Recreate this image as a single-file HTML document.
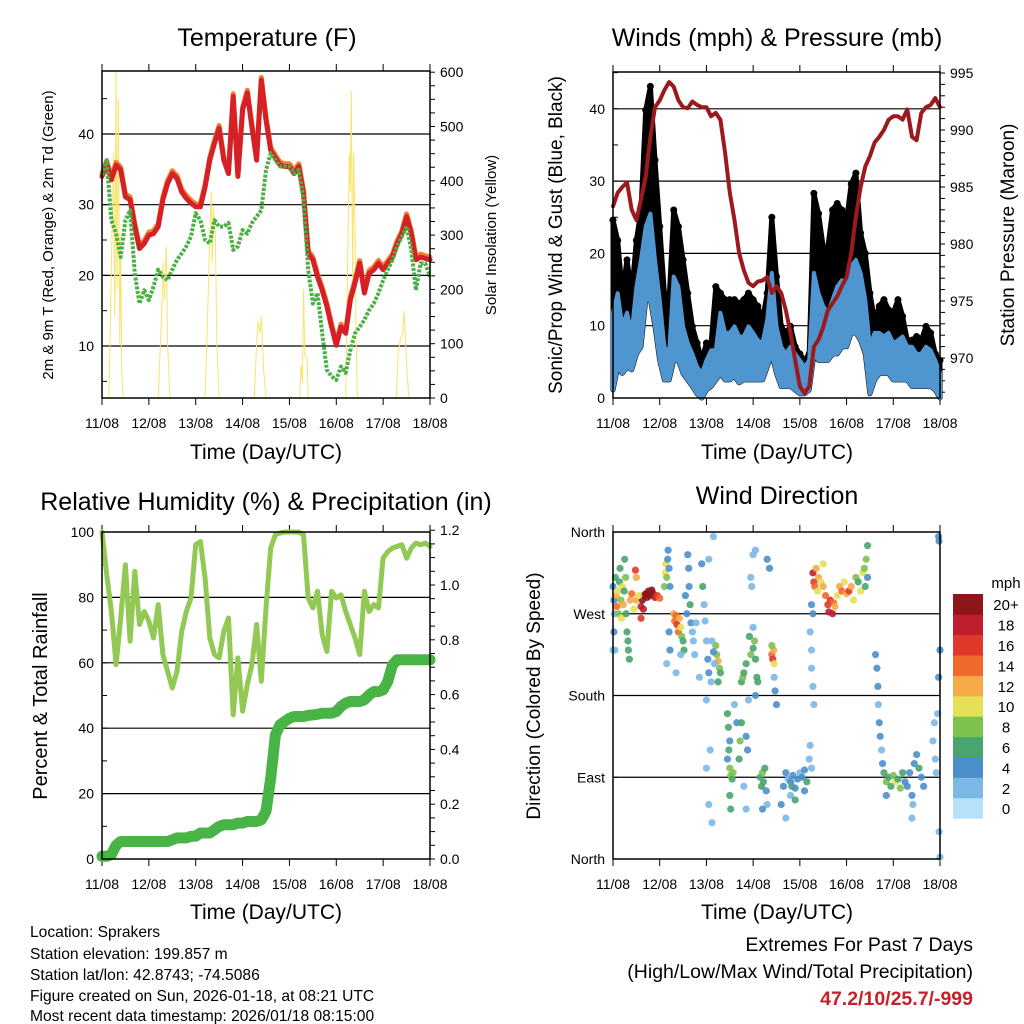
<!DOCTYPE html>
<html><head><meta charset="utf-8"><style>
html,body{margin:0;padding:0;background:#fff;}
svg{display:block;font-family:"Liberation Sans",Arial,sans-serif;}
</style></head><body>
<svg id="fig" width="1024" height="1024" viewBox="0 0 1024 1024" xmlns="http://www.w3.org/2000/svg">
<g id="bg"></g>
<text x="267" y="46" font-size="25" text-anchor="middle">Temperature (F)</text>
<text x="777" y="46" font-size="25" text-anchor="middle">Winds (mph) &amp; Pressure (mb)</text>
<text x="266" y="510" font-size="25" text-anchor="middle">Relative Humidity (%) &amp; Precipitation (in)</text>
<text x="777" y="504" font-size="25" text-anchor="middle">Wind Direction</text>
<text x="266" y="459" font-size="21" text-anchor="middle">Time (Day/UTC)</text>
<text x="777" y="459" font-size="21" text-anchor="middle">Time (Day/UTC)</text>
<text x="266" y="919" font-size="21" text-anchor="middle">Time (Day/UTC)</text>
<text x="777" y="919" font-size="21" text-anchor="middle">Time (Day/UTC)</text>
<text transform="translate(53,235) rotate(-90)" font-size="15" text-anchor="middle">2m &amp; 9m T (Red, Orange) &amp; 2m Td (Green)</text>
<text transform="translate(496,235) rotate(-90)" font-size="15" text-anchor="middle">Solar Insolation (Yellow)</text>
<text transform="translate(562,235) rotate(-90)" font-size="19" text-anchor="middle">Sonic/Prop Wind &amp; Gust (Blue, Black)</text>
<text transform="translate(1014,235) rotate(-90)" font-size="19" text-anchor="middle">Station Pressure (Maroon)</text>
<text transform="translate(47,696) rotate(-90)" font-size="20" text-anchor="middle">Percent &amp; Total Rainfall</text>
<text transform="translate(540,696) rotate(-90)" font-size="19" text-anchor="middle">Direction (Colored By Speed)</text>
<g font-size="15.6">
<text x="30" y="937">Location: Sprakers</text>
<text x="30" y="959">Station elevation: 199.857 m</text>
<text x="30" y="980">Station lat/lon: 42.8743; -74.5086</text>
<text x="30" y="1001">Figure created on Sun, 2026-01-18, at 08:21 UTC</text>
<text x="30" y="1021">Most recent data timestamp: 2026/01/18 08:15:00</text>
</g>
<g font-size="19.5" text-anchor="end">
<text x="973" y="951">Extremes For Past 7 Days</text>
<text x="973" y="978">(High/Low/Max Wind/Total Precipitation)</text>
<text x="973" y="1005" fill="#c8202a" font-weight="bold">47.2/10/25.7/-999</text>
</g>
<g id="p1"></g><g id="p2"></g><g id="p3"></g><g id="p4"></g>
</svg>
<script>
const days=["11/08","12/08","13/08","14/08","15/08","16/08","17/08","18/08"];
const tStep=0.1;
const tempT=[34,35.8,33.5,35.6,34.9,31.1,30.7,26.9,23.8,24.5,25.7,25.9,26.9,30.7,33,34.4,33.7,31.8,30.9,30.2,29.7,29.7,32.5,36.3,38.7,40.8,36.3,34.4,45.3,34,43.4,45.8,41,36.3,47.6,42,37.7,36.6,35.6,35.4,35.4,34.4,35.4,31.6,23.1,22.2,19.8,17.9,15.6,12.7,10.1,12.7,11.8,16.5,18.9,21.7,17.5,20.3,20.8,21.7,20.8,21.7,22.6,24.5,25.9,28.3,25.9,22.2,22.6,22.4,22.2];
const tempTd=[34.2,36.3,27.8,25.9,22.6,27.8,29.2,20.3,16,17.9,16.5,18.4,20.8,19.8,19.3,20.8,22.2,23.1,24.1,25.5,28.8,27.8,25,24.5,27.8,26.9,26.9,27.4,23.6,24.1,26.4,25.9,27.4,28.3,29.2,34.9,37.3,36.3,35.4,35.4,35.4,34.4,34.9,30.7,20.8,16,17.5,11.8,6.6,5.7,5.2,7.1,6.2,9.4,11.8,12.7,13.7,15.1,16,17.5,19.3,20.8,22.2,24.1,25.5,26.9,23.6,17.9,21.7,21.7,19.8];
const solarT=[0,0.15,0.2,0.25,0.27,0.3,0.32,0.35,0.38,0.4,0.42,0.45,1.2,1.27,1.3,1.33,1.37,1.4,1.45,2.2,2.27,2.3,2.33,2.35,2.38,2.42,2.45,2.5,3.25,3.3,3.33,3.37,3.4,3.45,3.5,4.22,4.25,4.28,4.3,4.33,4.38,4.4,5.2,5.25,5.28,5.3,5.32,5.35,5.37,5.4,5.42,5.45,6.28,6.32,6.37,6.42,6.45,6.5,6.55,7.0];
const solarV=[0,0,250,450,150,600,200,550,100,300,50,0,0,150,250,180,280,100,0,0,200,300,380,250,350,300,100,0,0,100,140,120,150,50,0,0,60,30,200,80,70,0,0,300,450,380,565,200,450,320,120,0,0,80,110,120,160,60,0,0];
const pres=[983.3,984.5,985,985.4,983,982.1,983.9,985.9,989.4,992,992.6,993.5,994.2,993.8,992.6,992,991.9,992.5,992.2,992,992,991.2,991.5,990.9,988,984.5,982.1,979.2,977.7,976.6,976.3,976.7,976.8,977.1,975.7,976.3,975.7,974.2,972.2,969.8,967.5,966.9,967.5,971,971.6,972.7,974.2,974.8,975.4,976.3,977.1,979.2,982.4,985,986.8,987.7,988.9,989.4,990,990.9,991.2,991.2,990.9,991.8,989.4,989.1,991.5,992,992.2,992.8,992];
const windLo=[1.1,4.3,3.4,4.3,3.9,6.1,7.1,13.6,13.6,9.9,5.2,2.5,2.5,5.2,5.2,3.4,2.5,1.6,0.6,0,1.1,1.6,2.5,3.4,2.5,2.5,3.0,2.1,2.5,2.5,2.5,2.5,2.5,4.3,6.1,3.4,1.6,1.6,1.6,1.1,0.6,0.6,1.1,6.1,5.2,5.2,5.2,6.1,6.1,7.1,7.1,9.0,9.0,8.0,6.1,0.6,2.5,3.4,3.4,3.4,2.5,2.5,2.5,2.5,1.6,1.6,1.6,1.6,1.6,1.1,0];
const windHi=[11.8,14.5,9.9,11.8,9.0,15.4,19.1,23.7,25.5,19.1,13.6,7.1,6.1,16.8,15.4,9.9,7.6,6.1,4.3,3.4,5.2,6.6,6.6,11.8,9.0,9.0,9.9,8.5,8.5,9.9,9.0,8.0,7.6,10.8,17.3,9.9,7.1,6.1,7.1,6.1,5.2,4.3,5.2,17.3,14.5,12.7,11.8,13.6,15.4,16.3,15.4,18.2,19.1,17.3,13.6,7.1,9.0,9.0,8.5,9.0,7.6,8.0,8.5,7.1,7.1,6.1,6.1,7.1,6.6,5.2,3.4];
const gust=[24.6,21.8,14.5,19.1,14.5,21.8,26.0,39.8,43.1,32.9,23.7,14.5,13.6,26.0,23.7,19.1,14.5,9.9,7.6,5.2,7.6,7.6,15.4,14.5,13.6,13.6,13.6,13.1,13.6,14.5,13.6,12.7,10.8,14.5,25.0,16.8,9.9,9.0,9.9,7.1,6.1,5.2,6.1,28.3,25.5,20.9,20.9,26.0,26.9,26.0,24.6,29.6,31.1,22.8,20.0,14.5,10.8,12.7,13.6,12.2,11.8,13.6,11.3,8.0,8.0,8.5,8.0,9.9,9.0,6.1,5.2];
const rh=[100,87,75.7,59.4,73.7,90,66.6,88,71.7,75.7,72.7,67.6,77.8,62.5,57.4,52.3,57.4,69.6,75.7,79.8,96.1,97.1,85.9,67.6,62.5,61.5,69.6,73.7,44.1,61.5,45.2,53.3,59.4,71.7,54.3,76.8,95.1,99.2,99.7,100,100,100,100,99.2,79.8,76.8,81.9,68.6,63.5,81.9,79.8,80.8,75.7,71.7,67.6,62.5,81.9,75.7,77.8,76.8,92,94,95.1,95.6,96.1,92,95.1,96.6,96.1,96.6,95.6];
const precip=[0.01,0.01,0.016,0.05,0.064,0.064,0.064,0.064,0.064,0.064,0.064,0.064,0.064,0.064,0.064,0.07,0.077,0.077,0.077,0.083,0.083,0.095,0.095,0.095,0.107,0.119,0.125,0.125,0.125,0.131,0.131,0.137,0.137,0.137,0.143,0.174,0.295,0.453,0.49,0.502,0.514,0.52,0.52,0.52,0.524,0.526,0.528,0.532,0.532,0.532,0.538,0.557,0.569,0.575,0.575,0.575,0.581,0.599,0.611,0.611,0.617,0.648,0.708,0.727,0.727,0.727,0.727,0.727,0.727,0.727,0.727];
const dirT=[0.0,0.02,0.03,0.05,0.07,0.08,0.1,0.12,0.14,0.15,0.17,0.18,0.2,0.22,0.24,0.25,0.27,0.28,0.3,0.32,0.33,0.35,0.37,0.4,0.45,0.5,0.0,0.02,0.04,0.48,0.5,
0.6,0.63,0.66,0.7,0.73,0.76,0.8,0.83,0.86,0.9,0.95,1.0,0.6,0.65,0.55,
1.1,1.12,1.13,1.15,1.17,1.18,1.2,1.22,1.2,1.22,1.15,
1.3,1.32,1.35,1.37,1.4,1.42,1.45,1.47,1.5,1.52,1.45,1.35,
1.6,1.62,1.63,1.65,1.67,1.7,1.72,1.75,1.55,1.58,1.78,
1.9,1.92,1.95,1.97,2.0,2.03,1.85,2.05,2.1,2.0,
2.2,2.22,2.25,2.28,2.3,2.25,2.12,2.15,2.17,
2.05,2.15,2.0,2.05,2.12,2.08,
2.45,2.47,2.5,2.48,2.5,2.52,2.55,2.57,2.5,2.52,2.45,
2.6,2.65,2.7,2.72,2.75,2.75,2.78,2.8,2.85,2.85,2.88,2.9,2.92,2.8,2.85,
2.95,3.0,3.03,3.05,3.08,3.1,3.05,3.0,
3.4,3.42,3.44,3.45,3.4,
3.15,3.18,3.2,3.22,3.25,3.28,3.3,3.2,
3.45,3.47,3.5,3.0,3.05,2.95,2.97,3.3,3.35,
3.7,3.75,3.8,3.83,3.85,3.9,3.95,4.0,4.05,4.1,4.15,4.2,4.22,4.25,3.8,3.9,4.1,3.65,3.6,3.7,
4.22,4.25,4.25,4.28,4.3,4.25,4.28,
4.28,4.3,4.32,4.35,4.38,4.4,4.45,4.5,4.55,4.6,4.62,4.65,4.7,4.72,4.75,4.8,4.85,4.9,4.95,5.0,5.05,5.1,5.15,5.2,5.25,5.3,5.35,5.38,5.4,5.42,5.45,5.45,4.5,
5.62,5.65,5.67,5.68,5.7,5.72,5.75,5.77,
5.8,5.85,5.9,5.95,6.0,6.05,6.1,6.15,6.2,6.25,5.85,
6.3,6.35,6.4,6.42,6.45,6.5,6.55,6.6,6.65,6.4,
6.85,6.88,6.9,6.92,6.95,6.97,7.0,6.98,7.0,6.97,6.98];
const dirD=[300,285,270,310,290,278,295,270,305,320,285,265,300,280,295,330,310,270,250,240,230,220,285,292,275,285,230,250,230,318,310,
278,285,290,292,288,295,290,296,292,288,290,287,265,275,290,
300,315,325,310,330,340,320,300,250,230,215,
270,262,268,258,250,265,255,245,240,230,225,205,
335,320,300,280,260,250,240,225,290,270,260,
325,300,280,262,240,220,200,205,195,175,
235,225,218,210,205,195,240,228,215,
330,355,100,60,40,120,
160,145,130,120,100,92,88,95,70,55,110,
170,150,110,130,150,195,200,205,215,135,120,175,245,80,55,
225,232,240,220,200,195,180,255,
225,220,230,215,235,
90,80,95,85,100,75,60,55,
200,185,170,335,340,310,300,330,320,
95,88,85,80,92,78,88,95,90,98,85,110,125,100,70,65,75,80,60,45,
250,230,210,190,170,280,270,
315,305,300,320,295,310,305,300,290,280,272,285,270,282,278,290,300,295,305,292,295,300,285,310,305,295,315,320,300,330,345,310,325,
225,210,190,170,150,135,120,105,
95,85,90,80,92,85,88,78,95,85,70,
80,95,70,60,105,115,100,90,80,45,
130,150,110,95,160,200,230,30,2,355,350];
const dirS=[4,5,3,6,12,14,10,8,7,6,9,10,11,12,6,7,8,6,7,6,7,6,12,14,10,12,3,4,2,16,12,
18,20,20,20,20,20,20,20,20,18,16,14,16,18,10,
8,10,10,9,4,4,4,4,4,4,2,
12,14,15,16,14,12,10,8,6,7,3,3,
4,4,5,6,4,3,2,2,4,4,2,
4,6,2,2,3,4,2,4,2,2,
8,8,12,8,6,6,3,4,3,
2,2,2,2,2,2,
6,6,4,6,8,8,7,8,6,6,4,
3,4,7,8,7,6,8,7,6,4,4,3,6,2,3,
8,7,8,6,7,6,4,3,
14,16,13,10,8,
6,7,8,6,6,4,3,4,
3,4,4,3,3,2,2,4,4,
4,3,4,6,4,5,4,3,4,4,6,2,2,2,2,6,4,4,4,3,
2,2,2,2,3,4,4,
18,16,14,12,10,12,10,12,14,16,18,16,18,14,12,10,12,14,10,12,16,12,10,8,6,10,10,8,6,8,6,4,10,
4,4,4,3,4,4,2,4,
6,8,7,6,8,10,6,8,6,4,4,
4,4,4,3,4,4,6,4,4,3,
3,2,2,2,2,4,4,2,2,4,4];
const cbLabels=["0","2","4","6","8","10","12","14","16","18","20+"];
const cbColors=["#b6e1f8","#7bb8e5","#4a8fca","#4aa46e","#7dc24e","#e6df58","#f6a947","#f1682b","#e0392b","#bf1e2c","#8e1519"];

const NS="http://www.w3.org/2000/svg";
function mk(parent,tag,attrs){const e=document.createElementNS(NS,tag);for(const k in attrs)e.setAttribute(k,attrs[k]);parent.appendChild(e);return e;}
function txt(parent,x,y,s,size,anchor){const e=mk(parent,'text',{x:x,y:y,'font-size':size,'text-anchor':anchor});e.textContent=s;return e;}

function panel(g,L,T,R,B){return {L,T,R,B,x:d=>L+d/7*(R-L)};}
function frame(g,p,grids,yl,yr,nameP){
  grids.forEach(v=>{const l=mk(g,'line',{x1:p.L,x2:p.R,y1:v,y2:v,stroke:'#000','stroke-width':1.2});
    
    });
  days.forEach((d,i)=>{const x=p.x(i);
    mk(g,'line',{x1:x,x2:x,y1:p.B,y2:p.B+7,stroke:'#000','stroke-width':1});
    mk(g,'line',{x1:x,x2:x,y1:p.T,y2:p.T-7,stroke:'#000','stroke-width':1});
    const t=txt(g,x,p.B+30,d,14,'middle');
    
    });
  yl.forEach(([v,s])=>{mk(g,'line',{x1:p.L,x2:p.L+5,y1:v,y2:v,stroke:'#000'});
    if(s!==null){const t=txt(g,p.L-8,v+5,s,14,'end');
    
    }});
  yr.forEach(([v,s])=>{mk(g,'line',{x1:p.R,x2:p.R+5,y1:v,y2:v,stroke:'#000'});
    if(s!==null){const t=txt(g,p.R+10,v+5,s,14,'start');
    
    }});
}
function border(g,p,name){const r=mk(g,'rect',{x:p.L,y:p.T,width:p.R-p.L,height:p.B-p.T,fill:'none',stroke:'#000','stroke-width':1.5});
  
  }
function path(g,xs,ys,attrs,name){let d='';xs.forEach((x,i)=>{d+=(i?'L':'M')+x.toFixed(1)+','+ys[i].toFixed(1);});
  const e=mk(g,'path',Object.assign({d:d,fill:'none','stroke-linejoin':'round','stroke-linecap':'round'},attrs));
  
  return e;}
const tIdx=tempT.map((_,i)=>i*tStep);

(function(){
 const g=document.getElementById('p1');const p=panel(g,102,71,430,398);
 const yT=v=>134+(40-v)*7.067, yS=v=>398-v*0.543;
 const gl=[10,20,30,40].map(yT);
 const yl=[];for(let v=5;v<=45;v+=5)yl.push([yT(v),v%10===0?String(v):null]);
 const yr=[];for(let v=0;v<=600;v+=25)yr.push([yS(v),v%100===0?String(v):null]);
 frame(g,p,gl,yl,yr,'temp');
 path(g,solarT.map(p.x),solarV.map(yS),{stroke:'#f8e46a','stroke-width':1},'solar-line');
 path(g,tIdx.map(p.x),tempT.map(v=>yT(v+0.4)),{stroke:'#f08030','stroke-width':5},'temp-9m-line');
 path(g,tIdx.map(p.x),tempT.map(yT),{stroke:'#d42026','stroke-width':5},'temp-2m-line');
 path(g,tIdx.map(p.x),tempTd.map(yT),{stroke:'#4bb043','stroke-width':4,'stroke-dasharray':'3 1.5','stroke-linecap':'butt'},'dewpoint-line');
 border(g,p,'temp');
})();

(function(){
 const g=document.getElementById('p2');const p=panel(g,613,72,940,398);
 const yW=v=>398-v*7.23, yP=v=>73+(995-v)*11.4;
 const gl=[10,20,30,40].map(yW);
 const yl=[];for(let v=0;v<=45;v+=5)yl.push([yW(v),v%10===0?String(v):null]);
 const yr=[];for(let v=967;v<=995;v++)yr.push([yP(v),v%5===0?String(v):null]);
 frame(g,p,gl,yl,yr,'winds');
 const xs=tIdx.map(p.x);
 let d='';xs.forEach((x,i)=>{d+=(i?'L':'M')+x.toFixed(1)+','+yW(gust[i]).toFixed(1);});
 for(let i=xs.length-1;i>=0;i--)d+='L'+xs[i].toFixed(1)+','+yW(windLo[i]).toFixed(1);
 const ga=mk(g,'path',{d:d+'Z',fill:'#000',stroke:'#000','stroke-width':5,'stroke-linejoin':'round'});
 
 
 gust.forEach((v,i)=>{const c=mk(g,'circle',{cx:xs[i],cy:yW(v),r:3.5,fill:'#000'});
   
   });
 let d2='';xs.forEach((x,i)=>{d2+=(i?'L':'M')+x.toFixed(1)+','+yW(windHi[i]).toFixed(1);});
 for(let i=xs.length-1;i>=0;i--)d2+='L'+xs[i].toFixed(1)+','+yW(windLo[i]).toFixed(1);
 const wa=mk(g,'path',{d:d2+'Z',fill:'#4f95d0',stroke:'#4f95d0','stroke-width':4,'stroke-linejoin':'round'});
 
 
 path(g,xs,pres.map(yP),{stroke:'#9c1a1e','stroke-width':4},'pressure-line');
 border(g,p,'winds');
})();

(function(){
 const g=document.getElementById('p3');const p=panel(g,102,532,430,859);
 const yR=v=>859-v*3.27, yQ=v=>859-v*274;
 const gl=[20,40,60,80].map(yR);
 const yl=[];for(let v=0;v<=100;v+=10)yl.push([yR(v),v%20===0?String(v):null]);
 const yr=[];for(let v=0;v<=1.2001;v+=0.05)yr.push([yQ(v),Math.abs(v*5-Math.round(v*5))<1e-6?v.toFixed(1):null]);
 frame(g,p,gl,yl,yr,'humidity');
 path(g,tIdx.map(p.x),rh.map(yR),{stroke:'#92c954','stroke-width':5},'humidity-line');
 path(g,tIdx.map(p.x),precip.map(yQ),{stroke:'#48b445','stroke-width':11},'precip-line');
 border(g,p,'humidity');
})();

(function(){
 const g=document.getElementById('p4');const p=panel(g,613,532,940,859);
 const yD=v=>859-v/360*327;
 const gl=[90,180,270].map(yD);
 const names=["North","East","South","West","North"];
 const yl=[0,90,180,270,360].map((v,i)=>[yD(v),names[i]]);
 frame(g,p,gl,yl,[],'direction');
 dirT.forEach((t,i)=>{const k=Math.min(10,Math.floor(dirS[i]/2));
   const c=mk(g,'circle',{cx:p.x(t),cy:yD(dirD[i]),r:3.6,fill:cbColors[k],'fill-opacity':0.9});
   
   });
 border(g,p,'direction');
 const cb=mk(g,'g',{});
 
 
 const h=20.4;
 cbColors.forEach((c,i)=>{const y=594+(10-i)*h;
   const r=mk(cb,'rect',{x:953,y:y,width:30,height:h+0.3,fill:c});
   
   
   const t=txt(cb,1006,y+h/2+6,cbLabels[i],15,'middle');
   
   });
 const u=txt(cb,1006,588,'mph',15,'middle');
 
 
})();
</script>
</body></html>
